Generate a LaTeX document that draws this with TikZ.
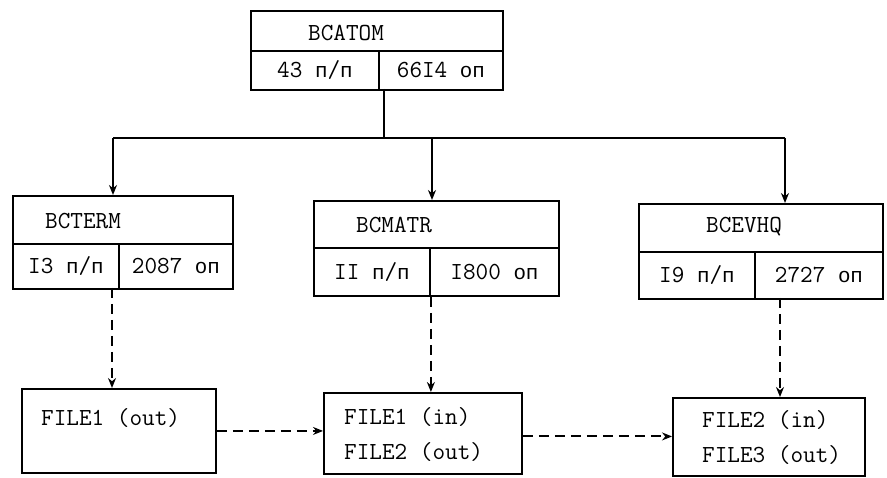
\documentclass[tikz,border=0pt]{standalone}
\usepackage{fontspec}
\newfontfamily\cyrmono[Scale=0.85]{Liberation Mono}
\usetikzlibrary{arrows.meta}
\newcommand{\pp}{{\cyrmono п}/{\cyrmono п}}
\newcommand{\op}{{\cyrmono оп}}
\tikzset{
  box/.style={draw, line width=1.9pt, anchor=north west, inner sep=0pt},
  txt/.style={font=\fontsize{24.5}{35}\selectfont\ttfamily, inner sep=0pt},
  ttl/.style={txt, anchor=west},
  multi/.style={txt, anchor=west, align=left},
  solidarrow/.style={line width=1.9pt, -{Stealth[length=10pt,width=8pt]}},
  dasharrow/.style={line width=1.9pt, dash pattern=on 10pt off 6pt, -{Stealth[length=10pt,width=8pt]}},
  plain/.style={line width=1.9pt}
}
\begin{document}
\begin{tikzpicture}[x=1pt,y=-1pt]
\useasboundingbox (0,0) rectangle (887,478);
% BCATOM
\node[box, minimum width=252pt, minimum height=40pt] (atomT) at (250,10) {};
\node[box, txt, anchor=north west, minimum width=128pt, minimum height=39pt] (atomA) at (250,50) {43 \pp};
\node[box, txt, anchor=north west, minimum width=124pt, minimum height=39pt] (atomB) at (378,50) {66I4 \op};
\node[ttl] (atomL) at (308,33) {BCATOM};
% BCTERM
\node[box, minimum width=220pt, minimum height=48pt] (termT) at (12,195) {};
\node[box, txt, anchor=north west, minimum width=106pt, minimum height=45pt] (termA) at (12,243) {I3 \pp};
\node[box, txt, anchor=north west, minimum width=114pt, minimum height=45pt] (termB) at (118,243) {2087 \op};
\node[ttl] (termL) at (45,221) {BCTERM};
% BCMATR
\node[box, minimum width=245pt, minimum height=47pt] (matrT) at (313,200) {};
\node[box, txt, anchor=north west, minimum width=116pt, minimum height=48pt] (matrA) at (313,247) {II \pp};
\node[box, txt, anchor=north west, minimum width=129pt, minimum height=48pt] (matrB) at (429,247) {I800 \op};
\node[ttl] (matrL) at (356,225) {BCMATR};
% BCEVHQ
\node[box, minimum width=244pt, minimum height=48pt] (evhqT) at (638,203) {};
\node[box, txt, anchor=north west, minimum width=116pt, minimum height=47pt] (evhqA) at (638,251) {I9 \pp};
\node[box, txt, anchor=north west, minimum width=128pt, minimum height=47pt] (evhqB) at (754,251) {2727 \op};
\node[ttl] (evhqL) at (706,227) {BCEVHQ};
% file boxes
\node[box, minimum width=194pt, minimum height=84pt] (file1) at (21,388) {};
\node[multi] (file1L) at (41,418) {FILE1 (out)};
\node[box, minimum width=198pt, minimum height=81pt] (file2) at (323,392) {};
\node[multi] (file2L) at (344,435) {FILE1 (in)\\FILE2 (out)};
\node[box, minimum width=192pt, minimum height=78pt] (file3) at (672,397) {};
\node[multi] (file3L) at (702,438) {FILE2 (in)\\FILE3 (out)};
% tree connectors
\coordinate (top) at (384,89);
\coordinate (bar) at (384,138);
\coordinate (barL) at (113,138);
\coordinate (barM) at (432,138);
\coordinate (barR) at (785,138);
\draw[plain] (top) -- (bar);
\draw[plain] (barL) -- (barR);
\draw[solidarrow] (barL) -- (barL |- termT.north);
\draw[solidarrow] (barM) -- (barM |- matrT.north);
\draw[solidarrow] (barR) -- (barR |- evhqT.north);
% dashed connectors
\coordinate (d1) at (112,288);
\coordinate (d3) at (780,298);
\draw[dasharrow] (d1) -- (d1 |- file1.north);
\draw[dasharrow] (matrA.south east) -- (matrA.south east |- file2.north);
\draw[dasharrow] (d3) -- (d3 |- file3.north);
\draw[dasharrow] (file1.east) -- (file1.east -| file2.west);
\draw[dasharrow] ([yshift=-3pt]file2.east) -- ([yshift=-3pt]file2.east -| file3.west);
\end{tikzpicture}
\end{document}
